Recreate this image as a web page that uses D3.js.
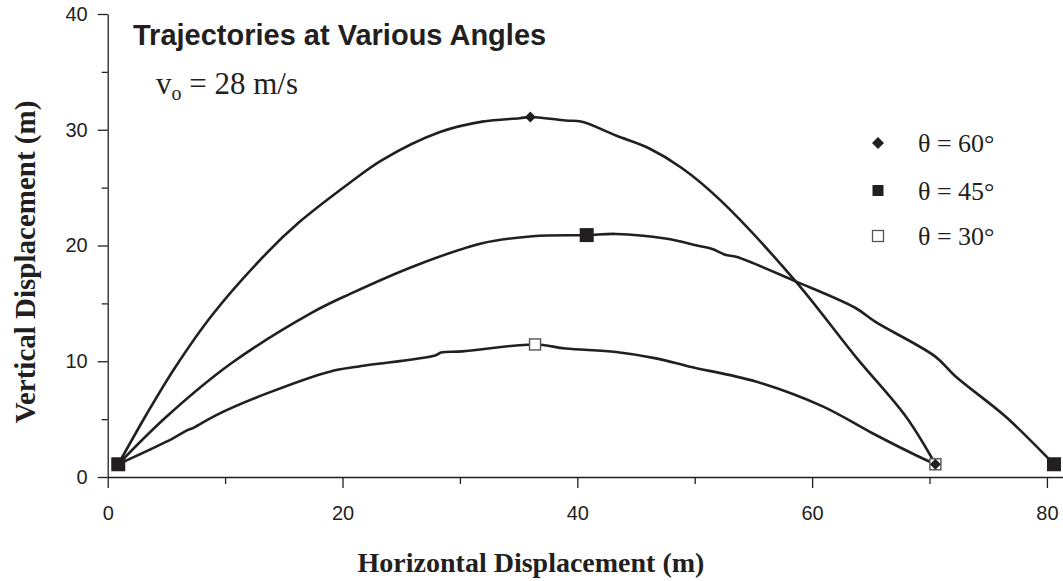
<!DOCTYPE html>
<html>
<head>
<meta charset="utf-8">
<script src="https://cdn.jsdelivr.net/npm/d3@7"></script>
<style>
  html, body { margin: 0; padding: 0; background: #fff; }
  svg { display: block; }
</style>
</head>
<body>
<svg id="chart" width="1063" height="581"></svg>
<script>
// ---- data ----
const title = "Trajectories at Various Angles";
const xTitle = "Horizontal Displacement (m)";
const yTitle = "Vertical Displacement (m)";
const xMajorTicks = [0, 20, 40, 60, 80];
const xMinorTicks = [10, 30, 50, 70];
const yMajorTicks = [0, 10, 20, 30, 40];
const yMinorTicks = [5, 15, 25, 35];
const seriesNames = ["θ = 60°", "θ = 45°", "θ = 30°"];

const traj60 = [[0.9,1.1],[3.3,5.4],[5.7,9.4],[8.9,14.0],[13.5,19.3],[16.3,22.0],[20.6,25.4],[23.4,27.4],
  [28.3,29.8],[31.9,30.7],[35.1,31.0],[36.0,31.1],[39.0,30.8],[40.4,30.7],[43.3,29.5],[46.1,28.4],
  [48.9,26.7],[52.2,23.9],[58.6,16.9],[63.7,10.4],[68.0,5.2],[70.5,1.1]];
const traj45 = [[0.9,1.1],[5.0,5.2],[10.5,9.8],[17.4,14.2],[20.6,15.8],[26.3,18.3],[31.9,20.2],[36.2,20.8],
  [40.8,20.9],[43.3,21.0],[47.5,20.6],[50.4,19.95],[51.5,19.7],[52.6,19.2],[53.6,19.0],[58.6,16.9],
  [63.7,14.6],[65.4,13.4],[70.5,10.4],[72.2,8.7],[76.5,5.2],[80.6,1.1]];
const traj30 = [[0.9,1.1],[5.0,3.05],[6.8,4.05],[7.3,4.25],[9.25,5.35],[13.5,7.2],[18.9,9.1],[21.4,9.55],
  [27.9,10.5],[28.4,10.75],[30.2,10.85],[36.4,11.45],[39.0,11.1],[43.3,10.8],[46.7,10.25],[49.5,9.55],
  [55.2,8.25],[60.9,6.1],[65.1,3.8],[68.8,1.9],[70.5,1.1]];

const marks60 = [[0.9,1.1],[36.0,31.1],[70.5,1.1]];
const marks45 = [[0.9,1.1],[40.8,20.9],[80.6,1.1]];
const marks30 = [[0.9,1.1],[36.4,11.45],[70.5,1.1]];

// ---- layout ----
const ink = "#231f20";
const svg = d3.select("#chart");
const x = d3.scaleLinear().domain([0, 81.37]).range([107.7, 1063]);
const y = d3.scaleLinear().domain([0, 40]).range([477, 14]);

const sans = "'Liberation Sans', Arial, sans-serif";
const serif = "'Liberation Serif', 'Times New Roman', serif";

// axes
const gx = svg.append("g").attr("transform", `translate(0,${y(0)})`);
gx.call(d3.axisBottom(x).tickValues(xMinorTicks).tickSize(7).tickFormat(""))
  .call(g => g.select(".domain").remove());
const gx2 = svg.append("g").attr("transform", `translate(0,${y(0)})`);
gx2.call(d3.axisBottom(x).tickValues(xMajorTicks).tickSize(11).tickSizeOuter(0).tickPadding(18).tickFormat(d3.format("d")));

const gy = svg.append("g").attr("transform", `translate(${x(0)},0)`);
gy.call(d3.axisLeft(y).tickValues(yMinorTicks).tickSize(6).tickFormat(""))
  .call(g => g.select(".domain").remove());
const gy2 = svg.append("g").attr("transform", `translate(${x(0)},0)`);
gy2.call(d3.axisLeft(y).tickValues(yMajorTicks).tickSize(10).tickSizeOuter(0).tickPadding(10).tickFormat(d3.format("d")));

svg.selectAll(".domain, .tick line").attr("stroke", ink).attr("stroke-width", 1.3);
svg.selectAll(".tick text").attr("fill", ink).style("font-family", sans).style("font-size", "20px");

// curves
const line = d3.line().x(d => x(d[0])).y(d => y(d[1])).curve(d3.curveCatmullRom.alpha(0.5));
[traj60, traj45, traj30].forEach(t => {
  svg.append("path").datum(t).attr("d", line)
    .attr("fill", "none").attr("stroke", ink).attr("stroke-width", 2.6)
    .attr("stroke-linejoin", "round").attr("stroke-linecap", "round");
});

// markers
const diamond = s => `M0,${-s/2}L${s/2},0L0,${s/2}L${-s/2},0Z`;
svg.append("g").selectAll("rect").data(marks30).join("rect")
  .attr("x", d => x(d[0]) - 5.5).attr("y", d => y(d[1]) - 5.5)
  .attr("width", 11).attr("height", 11)
  .attr("fill", "#fff").attr("stroke", "#555").attr("stroke-width", 1.4);
svg.append("g").selectAll("path").data(marks60).join("path")
  .attr("transform", d => `translate(${x(d[0])},${y(d[1])})`)
  .attr("d", diamond(11)).attr("fill", ink);
svg.append("g").selectAll("rect").data(marks45).join("rect")
  .attr("x", d => x(d[0]) - 7).attr("y", d => y(d[1]) - 7)
  .attr("width", 14).attr("height", 14).attr("fill", ink);

// legend
const lg = svg.append("g");
const legY = [143, 190.5, 236];
lg.append("path").attr("transform", `translate(878,${legY[0]})`).attr("d", diamond(12)).attr("fill", ink);
lg.append("rect").attr("x", 878 - 5.5).attr("y", legY[1] - 5.5).attr("width", 11).attr("height", 11).attr("fill", ink);
lg.append("rect").attr("x", 878 - 5.5).attr("y", legY[2] - 5.5).attr("width", 11).attr("height", 11)
  .attr("fill", "#fff").attr("stroke", "#555").attr("stroke-width", 1.3);
seriesNames.forEach((n, i) => {
  lg.append("text").attr("x", 918).attr("y", legY[i] + 9).text(n)
    .attr("fill", ink).style("font-family", serif).style("font-size", "26px");
});

// title and annotations
svg.append("text").attr("x", 133).attr("y", 45).text(title)
  .attr("fill", ink).style("font-family", sans).style("font-weight", "bold").style("font-size", "29px");

const v = svg.append("text").attr("x", 156).attr("y", 94).attr("fill", ink)
  .style("font-family", serif).style("font-size", "31px");
v.append("tspan").text("v");
v.append("tspan").text("o").attr("dy", 6).style("font-size", "20px");
v.append("tspan").text(" = 28 m/s").attr("dy", -6);

svg.append("text").attr("x", 531).attr("y", 572).attr("text-anchor", "middle").text(xTitle)
  .attr("fill", ink).style("font-family", serif).style("font-weight", "bold").style("font-size", "28px");

svg.append("text").attr("transform", "translate(35,262) rotate(-90)").attr("text-anchor", "middle").text(yTitle)
  .attr("fill", ink).style("font-family", serif).style("font-weight", "bold").style("font-size", "29px");
</script>
</body>
</html>
